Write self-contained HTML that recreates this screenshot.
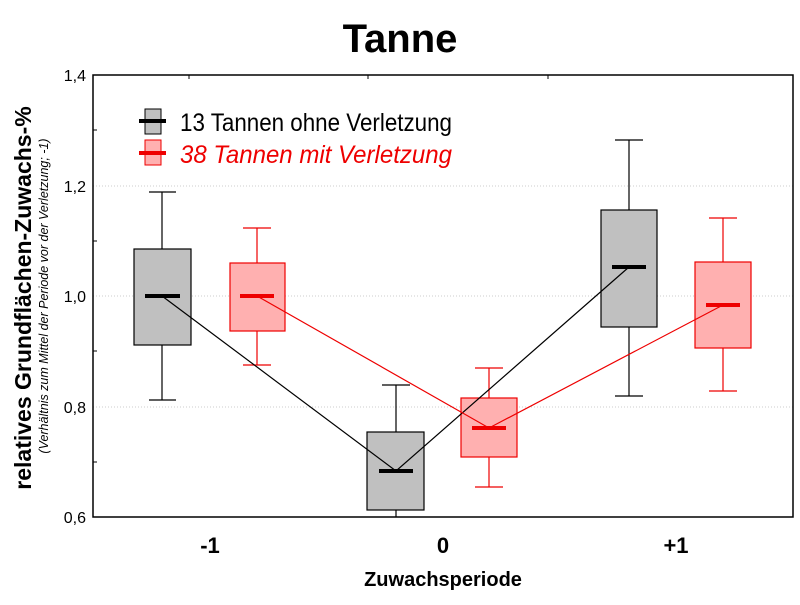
<!DOCTYPE html>
<html><head><meta charset="utf-8"><style>body{margin:0;background:#fff}</style></head><body>
<svg width="800" height="600" xmlns="http://www.w3.org/2000/svg" font-family="Liberation Sans, Arial, sans-serif">
<rect width="800" height="600" fill="#fff"/>
<text x="400" y="52" text-anchor="middle" font-size="40" font-weight="bold">Tanne</text>
<g stroke="#ccc" stroke-dasharray="1,2" stroke-width="1">
<line x1="93" y1="186" x2="793" y2="186"/><line x1="93" y1="296" x2="793" y2="296"/><line x1="93" y1="407" x2="793" y2="407"/>
</g>
<rect x="93" y="75" width="700" height="442" fill="none" stroke="#000" stroke-width="1.5"/>
<g stroke="#000" stroke-width="1">
<line x1="93" y1="130" x2="97" y2="130"/><line x1="93" y1="241" x2="97" y2="241"/><line x1="93" y1="351" x2="97" y2="351"/><line x1="93" y1="462" x2="97" y2="462"/>
<line x1="189" y1="75" x2="189" y2="79"/><line x1="368" y1="75" x2="368" y2="79"/><line x1="548" y1="75" x2="548" y2="79"/>
</g>
<g font-size="16" text-anchor="end" fill="#000">
<text x="86" y="81">1,4</text><text x="86" y="192">1,2</text><text x="86" y="302">1,0</text><text x="86" y="413">0,8</text><text x="86" y="523">0,6</text>
</g>
<g font-size="22" font-weight="bold" text-anchor="middle">
<text x="210" y="553">-1</text><text x="443" y="553">0</text><text x="676" y="553">+1</text>
</g>
<text x="443" y="586" text-anchor="middle" font-size="20" font-weight="bold">Zuwachsperiode</text>
<text transform="translate(31,298) rotate(-90)" text-anchor="middle" font-size="23" font-weight="bold">relatives Grundflächen-Zuwachs-%</text>
<text transform="translate(48,296) rotate(-90)" text-anchor="middle" font-size="12.5" font-style="italic">(Verhältnis zum Mittel der Periode vor der Verletzung; -1)</text>
<!-- black boxes -->
<g stroke="#000" stroke-width="1.2">
<line x1="162" y1="192" x2="162" y2="400"/><line x1="149" y1="192" x2="176" y2="192"/><line x1="149" y1="400" x2="176" y2="400"/>
<rect x="134" y="249" width="57" height="96" fill="#c0c0c0"/>
<line x1="396" y1="385" x2="396" y2="517"/><line x1="382" y1="385" x2="410" y2="385"/>
<rect x="367" y="432" width="57" height="78" fill="#c0c0c0"/>
<line x1="629" y1="140" x2="629" y2="396"/><line x1="615" y1="140" x2="643" y2="140"/><line x1="615" y1="396" x2="643" y2="396"/>
<rect x="601" y="210" width="56" height="117" fill="#c0c0c0"/>
</g>
<!-- red boxes -->
<g stroke="#e00" stroke-width="1.2">
<line x1="257" y1="228" x2="257" y2="365"/><line x1="243" y1="228" x2="271" y2="228"/><line x1="243" y1="365" x2="271" y2="365"/>
<rect x="230" y="263" width="55" height="68" fill="#ffb0b0"/>
<line x1="489" y1="368" x2="489" y2="487"/><line x1="475" y1="368" x2="503" y2="368"/><line x1="475" y1="487" x2="503" y2="487"/>
<rect x="461" y="398" width="56" height="59" fill="#ffb0b0"/>
<line x1="723" y1="218" x2="723" y2="391"/><line x1="709" y1="218" x2="737" y2="218"/><line x1="709" y1="391" x2="737" y2="391"/>
<rect x="695" y="262" width="56" height="86" fill="#ffb0b0"/>
</g>
<!-- connecting lines -->
<polyline points="162,296 396,471 629,267" fill="none" stroke="#000" stroke-width="1.2"/>
<polyline points="257,296 489,428 723,305" fill="none" stroke="#e00" stroke-width="1.2"/>
<g stroke="#000" stroke-width="4">
<line x1="145" y1="296" x2="180" y2="296"/><line x1="379" y1="471" x2="413" y2="471"/><line x1="612" y1="267" x2="646" y2="267"/>
</g>
<g stroke="#e00" stroke-width="4">
<line x1="240" y1="296" x2="274" y2="296"/><line x1="472" y1="428" x2="506" y2="428"/><line x1="706" y1="305" x2="740" y2="305"/>
</g>
<!-- legend -->
<rect x="145" y="109" width="16" height="25" fill="#c0c0c0" stroke="#000"/>
<line x1="139" y1="121" x2="166" y2="121" stroke="#000" stroke-width="4"/>
<text x="180" y="131" font-size="25" textLength="272" lengthAdjust="spacingAndGlyphs">13 Tannen ohne Verletzung</text>
<rect x="145" y="140" width="16" height="25" fill="#ffb0b0" stroke="#e00"/>
<line x1="139" y1="153" x2="166" y2="153" stroke="#e00" stroke-width="4"/>
<text x="180" y="163" font-size="25" font-style="italic" fill="#e00" textLength="272" lengthAdjust="spacingAndGlyphs">38 Tannen mit Verletzung</text>
</svg>
</body></html>
